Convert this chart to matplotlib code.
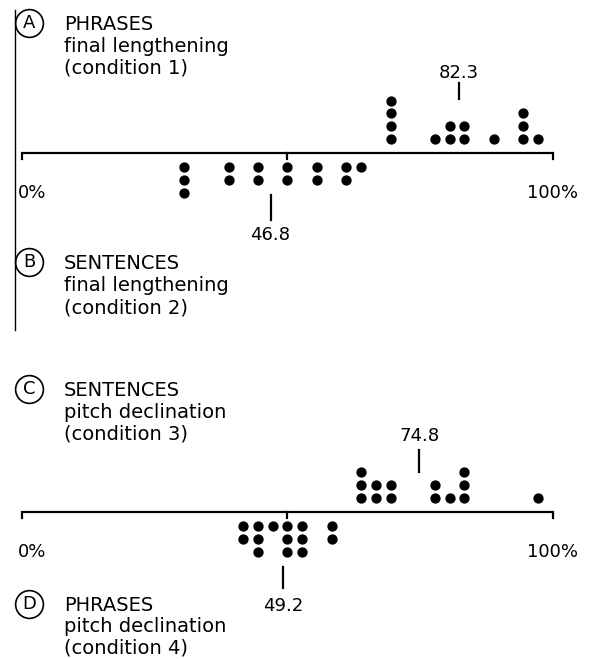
import numpy as np
import matplotlib
matplotlib.use("Agg")
import matplotlib.pyplot as plt
from collections import Counter

plt.rcParams['font.family'] = ['DejaVu Sans']

# individual scores (% correct), one dot per listener
phrases_fl = [69.4, 69.4, 69.4, 69.4, 77.8, 80.6, 80.6, 83.3, 83.3, 88.9, 94.4, 94.4, 94.4, 97.2]
sentences_fl = [30.6, 30.6, 30.6, 38.9, 38.9, 44.4, 44.4, 50.0, 50.0, 55.6, 55.6, 61.1, 61.1, 63.9]
sentences_pd = [63.9, 63.9, 63.9, 66.7, 66.7, 69.4, 69.4, 77.8, 77.8, 80.6, 83.3, 83.3, 83.3, 97.2]
phrases_pd = [41.7, 41.7, 44.4, 44.4, 44.4, 47.2, 50.0, 50.0, 50.0, 52.8, 52.8, 52.8, 58.3, 58.3]

means = [82.3, 46.8, 74.8, 49.2]
letters = ['A', 'B', 'C', 'D']
titles = [['PHRASES', 'final lengthening', '(condition 1)'],
          ['SENTENCES', 'final lengthening', '(condition 2)'],
          ['SENTENCES', 'pitch declination', '(condition 3)'],
          ['PHRASES', 'pitch declination', '(condition 4)']]

W, H = 589, 659
fig = plt.figure(figsize=(W / 100, H / 100), dpi=100)
ax = fig.add_axes([0, 0, 1, 1])
# 0% at px 22, 100% at px 553; y in pixels from top
x0, x1 = 22, 553
k = (x1 - x0) / 100.0
ax.set_xlim(-x0 / k, (W - x0) / k)
ax.set_ylim(H, 0)
ax.axis('off')

def px(p):
    return (p - x0) / k

def baseline(yax):
    ax.plot([0, 0, 100, 100], [yax + 6, yax, yax, yax + 6], color='black', lw=1.6,
            solid_joinstyle='miter')
    ax.plot([50, 50], [yax, yax + 6], color='black', lw=1.6)
    ax.text(px(18), yax + 40, '0%', fontsize=13, ha='left', va='center')
    ax.text(100, yax + 40, '100%', fontsize=13, ha='center', va='center')

def dots(vals, yax, up=True):
    c = Counter(vals)
    for v, n in c.items():
        for i in range(n):
            off = 14 + i * 12.8
            y = yax - off if up else yax + off
            ax.plot(v, y, 'o', color='black', ms=6.4)

def label(letter, lines, ycirc, spacing=22):
    ax.plot(px(29), ycirc, 'o', ms=20, mfc='none', mec='black', mew=1.2)
    ax.text(px(29), ycirc, letter, fontsize=13, ha='center', va='center')
    for i, t in enumerate(lines):
        ax.text(px(64), ycirc + 7 + i * spacing, t, fontsize=14, ha='left', va='baseline')

# top pair
ya = 153
baseline(ya)
dots(phrases_fl, ya, up=True)
dots(sentences_fl, ya, up=False)
ax.plot([means[0], means[0]], [83, 99], color='black', lw=1.6)
ax.text(means[0], 78, '82.3', fontsize=13, ha='center', va='baseline')
ax.plot([means[1], means[1]], [195, 220], color='black', lw=1.6)
ax.text(means[1], 240, '46.8', fontsize=13, ha='center', va='baseline')

# bottom pair
yc = 512
baseline(yc)
dots(sentences_pd, yc, up=True)
dots(phrases_pd, yc, up=False)
ax.plot([means[2], means[2]], [450, 472], color='black', lw=1.6)
ax.text(means[2], 441, '74.8', fontsize=13, ha='center', va='baseline')
ax.plot([means[3], means[3]], [567, 588], color='black', lw=1.6)
ax.text(means[3], 611, '49.2', fontsize=13, ha='center', va='baseline')

label('A', titles[0], 23)
label('B', titles[1], 262)
label('C', titles[2], 389)
label('D', titles[3], 604, spacing=21.5)

# left rule
ax.plot([px(15), px(15)], [10, 330], color='black', lw=1.0)

fig.savefig('out.png', dpi=100)
